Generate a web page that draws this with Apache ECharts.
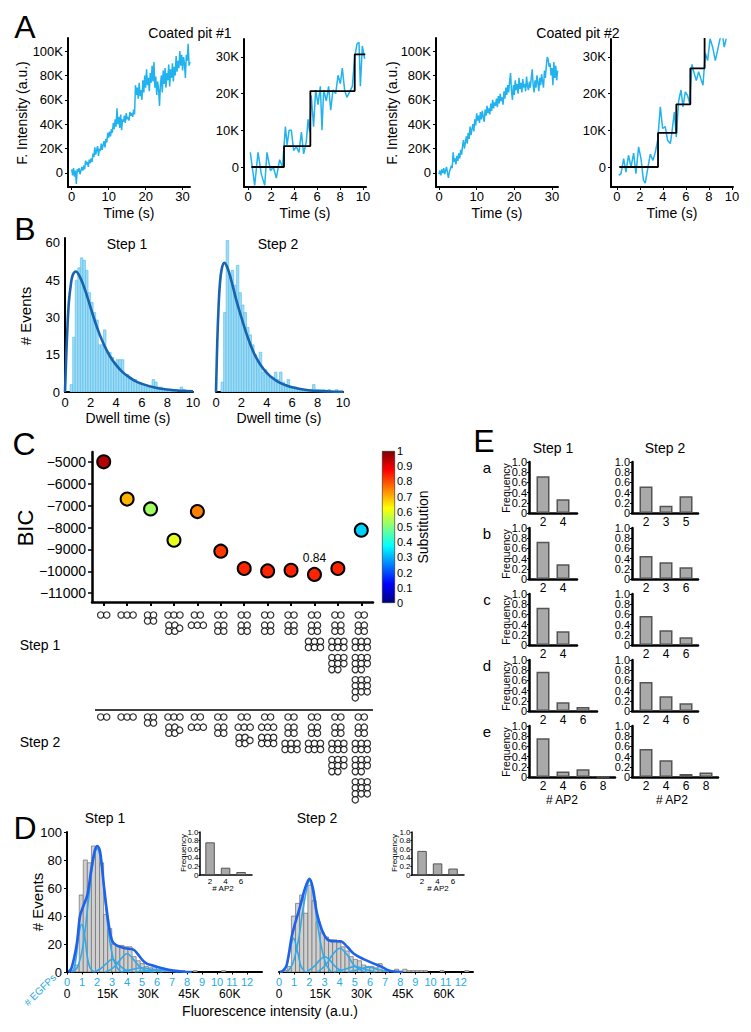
<!DOCTYPE html>
<html><head><meta charset="utf-8">
<script src="https://cdn.jsdelivr.net/npm/echarts@6/dist/echarts.min.js"></script>
<style>html,body{margin:0;padding:0;background:#fff}#c{width:751px;height:1032px}</style>
</head><body><div id="c"></div>
<script>
// ================= DATA =================
// Panel A (intensities in thousands of a.u.)
const a1Dt = 0.25; // frame interval (s)
const a1Vals = [3,-2,4,-3,2,-9,3,1,4,-1,2,5,2,6,3,10,7,9,5,11,8,12,9,16,13,21,15,19,22,14,20,18,24,19,23,26,21,28,25,33,29,34,30,36,33,41,36,44,38,53,40,46,37,48,35,44,42,47,41,49,44,46,43,50,47,49,46,52,48,72,64,70,61,74,63,68,60,76,66,80,70,85,72,78,67,82,74,88,75,91,70,79,64,75,69,55,72,80,66,84,73,86,70,82,76,89,71,85,78,90,75,87,80,96,83,92,86,100,88,97,84,95,90,78,97,92,106,88,91];
const a2Time = [0.2,0.58,0.87,1.16,1.45,1.65,1.95,2.2,2.46,2.75,3.0,3.25,3.4,3.57,3.77,3.97,4.2,4.43,4.64,4.84,5.07,5.22,5.36,5.5,5.7,5.88,6.09,6.29,6.43,6.58,6.81,7.01,7.19,7.39,7.62,7.83,8.03,8.2,8.4,8.6,8.84,9.07,9.28,9.48,9.65,9.77,9.94,10.14];
const a2Vals = [4,-5,4,-2,-5,4,-1,0,-3,2,0,11,6,10,10,4.5,5.5,4,9.5,3.6,7,13,9.5,19.5,11,21,17,22,10,21,18,22,15.5,21,20,25,22.7,27,21,19,20.5,22,30,33.6,34,22,33,29.5];
const a2StepTime = [0.29,3.13,5.42,9.28,10.2];
const a2StepLevel = [0,5.7,20.7,30.7];
const a3Dt = 0.25;
const a3Vals = [-1,2,-2,3,0,4,-1,2,5,0,-4,1,3,6,4,17,9,12,7,14,10,16,12,19,15,22,27,20,25,30,24,33,28,38,31,36,40,34,44,39,49,43,47,41,50,44,51,46,42,52,47,55,49,53,48,57,51,60,53,58,55,61,54,63,57,65,59,62,56,67,61,70,64,72,66,75,82,67,60,72,64,76,68,73,65,78,69,74,66,77,70,73,67,79,71,68,75,70,78,85,72,66,76,70,80,74,67,78,72,81,75,70,84,78,88,95,93,87,90,80,86,72,91,78,88,76,84];
const a4Time = [0.15,0.35,0.58,0.78,1.0,1.22,1.45,1.65,1.88,2.09,2.3,2.46,2.67,2.9,3.13,3.33,3.54,3.77,3.97,4.2,4.4,4.64,4.78,4.99,5.16,5.36,5.57,5.74,5.94,6.14,6.32,6.52,6.72,6.9,7.1,7.3,7.48,7.68,7.88,8.1,8.35,8.55,8.75,8.93,9.13,9.33,9.5];
const a4Vals = [-2.3,-1.8,2.3,-1.4,3.2,0,3.8,-1.8,5.5,2.3,-3.6,-4.4,-0.5,3.5,1.8,4,7.3,16.4,10.5,11,7.3,6.4,9.5,15,8.2,18,21,16.4,20.5,19.5,17.3,28,25.5,23.6,26,24,22.3,31,29,35,32.3,29,31.8,34.5,37,32.7,35];
const a4StepTime = [0.2,3.57,5.16,6.38,7.62,7.9];
const a4StepLevel = [0,9.3,17.1,26.9,38];

// Panel B (dwell-time histograms, bin width 0.2 s)
const bBinW = 0.2;
const b1Counts = [0,0,3,22,45,50,54,53,49,40,36,32,29,19,19,25,16,16,14,12,13,13,13,7,7,6,5,5,4,3,3,3,2,2,5,4,2,2,1,1,1,1,1,1,0,2,1,0,0,0];
const b2Counts = [0,0,4,32,61,46,49,43,51,40,35,32,26,23,19,15,12,16,8,9,7,6,6,8,5,8,4,3,5,2,2,2,1,1,1,1,1,1,3,1,1,1,1,0,1,0,0,1,0,0];
const b1Fit = [[0,0],[0.1,15],[0.2,27],[0.3,36],[0.45,43],[0.6,47],[0.85,48.5],[1.1,47],[1.4,43.5],[1.7,39],[2,34],[2.5,26],[3,19.5],[3.5,14.5],[4,10.8],[4.5,8],[5,6],[5.5,4.4],[6,3.3],[7,1.8],[8,1],[9,0.5],[10,0.3]];
const b2Fit = [[0,0],[0.1,20],[0.2,34],[0.3,43],[0.45,49.5],[0.66,52],[0.9,50],[1.2,45],[1.6,37],[2,30],[2.5,22],[3,15.5],[3.5,11],[4,7.7],[4.5,5.4],[5,3.8],[5.5,2.7],[6,1.9],[7,0.9],[8,0.4],[9,0.2],[10,0.1]];
const bCountTicks = [0,15,30,45,60];

// Panel C
const cModels = ['1','2','3','4','5','6','7','8','9','10','11','12'];
const cLetters = ['','','','','','','a','b','c','d','e',''];
const cBIC = [-5000,-6700,-7150,-8580,-7270,-9080,-9870,-9980,-9950,-10140,-9870,-8120];
const cSub = [0.95,0.70,0.53,0.60,0.75,0.82,0.84,0.84,0.84,0.84,0.84,0.33];
const cBicTicks = [-11000,-10000,-9000,-8000,-7000,-6000,-5000];
const cGlyphStep1 = [[2],[3],[4],[3,5],[2,3],[2,4],[2,4],[2,4],[2,4],[2,4,6],[2,4,6,8],[2,4,6,8,10]];
const cGlyphStep2 = [[2],[3],[4],[3,5],[2,3],[2,4],[2,3,5],[2,3,6],[2,4,6],[2,4,6],[2,4,6,8],[2,4,6,8,10]];

// Panel D (intensity in thousands, bin width 1.5K)
const dBinW = 1.5;
const d1Counts = [0,1,5,55,80,78,90,88,78,41,31,20,19,19,18,18,11,8,6,4,3,3,2,2,1,1,1,0,1,0,0,1,0,0,0,0,0,0,1,0,0,0,0,0,0,0,0];
const d2Counts = [0,1,4,40,49,55,42,62,51,36,28,25,23,23,21,18,15,11,9,8,5,4,4,3,6,1,0,0,2,0,2,1,1,1,1,1,0,0,0,1,0,0,0,0,0,1,0];
const d1Total = [[0.5,0],[1.7,3],[3.6,20],[4.8,40],[6.0,47],[7.5,55],[9.1,75],[10.3,87],[11.2,90],[12.2,86],[13.7,60],[15.3,35],[16.7,22],[18.3,19],[21.4,17],[24.5,16],[26,13],[27.6,9],[29.4,6],[31.9,4.5],[35.5,2.5],[39.2,1],[43,0.2],[46,0]];
const d1Comps = [
  [[1.5,0],[2.5,2],[3.5,12],[4.3,26],[5.4,34],[6.5,26],[7.4,12],[8.5,3],[10,0]],
  [[2,0],[4,4],[6,20],[8,53],[9.5,77],[11.1,88],[12.6,78],[14,52],[15.5,26],[17,10],[18.5,3],[20,0]],
  [[10,0],[12.5,2.5],[14.5,6],[16.6,9],[18.7,6],[20.7,2.5],[23,0]],
  [[14,0],[17,3],[19.5,8.5],[22.1,13],[24.7,8.5],[27.2,3],[30,0.5],[32,0]],
  [[20,0],[23.5,1.5],[27.6,3],[31.5,1.5],[35,0]],
  [[25,0],[29,0.8],[33,1.5],[37,0.8],[41,0]]
];
const d2Total = [[0.3,0],[1.5,1],[2.8,5],[4.6,25],[5.9,35],[7.7,47],[9.5,60],[11.1,66.5],[12.3,60],[13.8,42],[15.6,30],[17.7,23],[19.9,22],[22.3,22],[24.8,18],[27.2,13],[30.9,9],[34.5,6],[37,4],[39.4,1.5],[41.8,0.3],[45,0]];
const d2Comps = [
  [[1,0],[2.5,3],[3.8,14],[5.3,24],[6.8,14],[8,4],[9.5,0]],
  [[3,0],[5,6],[7,22],[9,48],[11.1,65],[13,48],[15,22],[17,6],[19,0]],
  [[10,0],[12.8,4],[14.8,8.5],[16.6,11],[18.4,8.5],[20.4,4],[23,0]],
  [[14,0],[17,5],[19.5,12.5],[22.1,17],[24.7,12.5],[27.2,5],[30,1],[32,0]],
  [[20,0],[24,2],[27.6,4],[31.2,2],[35,0]],
  [[25,0],[29,1.8],[32.5,3.5],[36,1.8],[40,0]]
];
const dEgfpTicks = [0,1,2,3,4,5,6,7,8,9,10,11,12];
const dKTicks = [0,15,30,45,60];
const dIn1Cats = [2,4,6], dIn1Vals = [0.76,0.17,0.07];
const dIn2Cats = [2,4,6], dIn2Vals = [0.56,0.27,0.15];

// Panel E
const eRowLetters = ['a','b','c','d','e'];
const e1Cats = [[2,4],[2,4],[2,4],[2,4,6],[2,4,6,8]];
const e1Vals = [[0.72,0.27],[0.73,0.29],[0.73,0.27],[0.77,0.17,0.08],[0.76,0.11,0.15,0]];
const e2Cats = [[2,3,5],[2,3,6],[2,4,6],[2,4,6],[2,4,6,8]];
const e2Vals = [[0.52,0.14,0.33],[0.45,0.33,0.23],[0.57,0.29,0.15],[0.57,0.29,0.15],[0.55,0.33,0.06,0.09]];
const freqTicks = [0,0.2,0.4,0.6,0.8,1];
const freqLabelsEven = [0,0.4,0.8];
const freqLabelsOdd = [0.2,0.6,1];

// ================= BUILD =================
const FONT = "'Liberation Sans', Arial, Helvetica, sans-serif";
const TRACE = '#22B2EE';
const grid = [], xAxis = [], yAxis = [], series = [], graphic = [];

function merge(a, b) {
  const out = Object.assign({}, a);
  for (const k in b) {
    const v = b[k];
    if (v && typeof v === 'object' && !Array.isArray(v) && out[k] && typeof out[k] === 'object' && !Array.isArray(out[k])) out[k] = merge(out[k], v);
    else out[k] = v;
  }
  return out;
}
function axisBase(extra) {
  return merge({
    type: 'value',
    axisLine: {show: true, onZero: false, lineStyle: {color: '#000', width: 2}},
    axisTick: {show: true, length: 3, lineStyle: {color: '#000', width: 1}},
    axisLabel: {color: '#000', fontSize: 12, fontFamily: FONT, margin: 4, showMinLabel: true, showMaxLabel: true, hideOverlap: false},
    splitLine: {show: false}
  }, extra || {});
}
function addGrid(rect, xas, yas) {
  const gi = grid.length;
  grid.push(Object.assign({containLabel: false}, rect));
  const xi = [], yi = [];
  (Array.isArray(xas) ? xas : [xas]).forEach(a => { xAxis.push(axisBase(merge(a, {gridIndex: gi}))); xi.push(xAxis.length - 1); });
  (Array.isArray(yas) ? yas : [yas]).forEach(a => { yAxis.push(axisBase(merge(a, {gridIndex: gi}))); yi.push(yAxis.length - 1); });
  return {x: xi, y: yi};
}
function text(str, x, y, o) {
  o = o || {};
  graphic.push({type: 'text', x: x, y: y, rotation: o.rot || 0, z: 100, silent: true,
    style: {text: str, fill: o.color || '#000', fontSize: o.size || 14, fontFamily: FONT,
      align: o.align || 'center', verticalAlign: 'middle', textAlign: o.align || 'center', textVerticalAlign: 'middle'}});
}
function line(ax, data, color, width, extra) {
  series.push(Object.assign({type: 'line', xAxisIndex: ax.x[0], yAxisIndex: ax.y[0], data: data, symbol: 'none', showSymbol: false,
    lineStyle: {color: color, width: width}, clip: true, z: 3}, extra || {}));
}
function hist(ax, counts, binW, fill, stroke, lw) {
  series.push({type: 'custom', xAxisIndex: ax.x[0], yAxisIndex: ax.y[0], clip: true, z: 1,
    data: counts.map((c, i) => [i * binW, c]),
    encode: {x: 0, y: 1},
    renderItem: function (params, api) {
      const x = api.value(0), h = api.value(1);
      if (!h) return null;
      const p0 = api.coord([x, h]), p1 = api.coord([x + binW, 0]);
      return {type: 'rect', shape: {x: p0[0], y: p0[1], width: p1[0] - p0[0], height: p1[1] - p0[1]},
        style: {fill: fill, stroke: stroke, lineWidth: lw}};
    }});
}
function miniBars(rect, cats, vals, o) {
  const fmt = v => v === 0 ? '0' : v.toFixed(1);
  const ax = addGrid(rect,
    {min: -o.x0, max: -o.x0 + rect.width / o.step, axisLine: {lineStyle: {width: o.lw}},
      axisTick: {show: false},
      axisLabel: {fontSize: o.xfs, margin: o.xm, customValues: cats.map((c, i) => i), formatter: v => String(cats[Math.round(v)])}},
    [{min: 0, max: 1, axisLine: {lineStyle: {width: o.lw}}, axisTick: {length: o.tl, customValues: freqTicks},
      axisLabel: {fontSize: o.yfs, margin: o.ym, customValues: freqLabelsEven, formatter: fmt}},
     {min: 0, max: 1, position: 'left', offset: 0, axisLine: {show: false}, axisTick: {show: false},
      axisLabel: {fontSize: o.yfs, margin: o.ym, customValues: freqLabelsOdd, formatter: fmt}}]);
  series.push({type: 'bar', xAxisIndex: ax.x[0], yAxisIndex: ax.y[0], barWidth: o.bw,
    data: vals.map((v, i) => [i, v]),
    itemStyle: {color: '#A9A9A9', borderColor: '#555', borderWidth: o.bl}});
}
const fmtK = v => v === 0 ? '0' : v + 'K';

// ---------- Panel A ----------
text('A', 25, 27, {size: 32});
text('Coated pit #1', 190, 33);
text('Coated pit #2', 578, 33);
[22, 392].forEach(x => text('F. Intensity (a.u.)', x, 113, {rot: Math.PI / 2}));
[129, 305, 497, 672].forEach(x => text('Time (s)', x, 213));
function aPanel(rect, xmin, xmax, xt, ymin, ymax, yt) {
  return addGrid(rect,
    {min: xmin, max: xmax, axisLabel: {fontSize: 13, margin: 3, customValues: xt}, axisTick: {customValues: xt}},
    {min: ymin, max: ymax, axisLabel: {fontSize: 13, margin: 5, customValues: yt, formatter: fmtK}, axisTick: {customValues: yt}});
}
const gA1 = aPanel({left: 68, top: 38, width: 122, height: 149}, -1, 32, [0,10,20,30], -11.5, 110.7, [0,20,40,60,80,100]);
line(gA1, a1Vals.map((v, i) => [i * a1Dt, v]), TRACE, 1.5);
const gA2 = aPanel({left: 244, top: 39, width: 122, height: 148}, -0.35, 10.26, [0,2,4,6,8,10], -5.45, 34.9, [0,10,20,30]);
line(gA2, a2Time.map((t, i) => [t, a2Vals[i]]), TRACE, 1.5);
line(gA2, a2StepTime.map((t, i) => [t, a2StepLevel[Math.min(i, a2StepLevel.length - 1)]]), '#000', 1.8, {step: 'end', z: 4});
const gA3 = aPanel({left: 436, top: 38, width: 122, height: 149}, -0.8, 31.6, [0,10,20,30], -11.5, 110.7, [0,20,40,60,80,100]);
line(gA3, a3Vals.map((v, i) => [i * a3Dt, v]), TRACE, 1.5);
const gA4 = aPanel({left: 611, top: 39, width: 122, height: 148}, -0.52, 10.09, [0,2,4,6,8,10], -5.45, 34.9, [0,10,20,30]);
line(gA4, a4Time.map((t, i) => [t, a4Vals[i]]), TRACE, 1.5);
line(gA4, a4StepTime.map((t, i) => [t, a4StepLevel[Math.min(i, a4StepLevel.length - 1)]]), '#000', 1.8, {step: 'end', z: 4});

// ---------- Panel B ----------
text('B', 25, 229, {size: 32});
text('Step 1', 127, 244); text('Step 2', 278, 244);
text('# Events', 25, 316, {rot: Math.PI / 2, size: 15});
text('Dwell time (s)', 128, 418); text('Dwell time (s)', 279, 418);
const bX = {min: 0, max: 10, interval: 2, axisTick: {show: false}, axisLabel: {fontSize: 13, margin: 4}};
const gB1 = addGrid({left: 65, top: 238, width: 128, height: 154}, bX,
  {min: 0, max: 62, axisTick: {show: false, customValues: bCountTicks}, axisLabel: {fontSize: 13, margin: 5, customValues: bCountTicks}});
const gB2 = addGrid({left: 216, top: 238, width: 127, height: 154}, bX, {min: 0, max: 62, show: false});
hist(gB1, b1Counts, bBinW, '#A3DBF5', '#4CBDEB', 0.6);
hist(gB2, b2Counts, bBinW, '#A3DBF5', '#4CBDEB', 0.6);
line(gB1, b1Fit, '#1763B0', 2.6, {smooth: 0.4});
line(gB2, b2Fit, '#1763B0', 2.6, {smooth: 0.4});

// ---------- Panel C ----------
text('C', 24, 444, {size: 32});
text('BIC', 25, 528, {rot: Math.PI / 2, size: 22});
text('Substitution', 423, 527, {rot: Math.PI / 2, size: 14});
text('Step 1', 40, 645); text('Step 2', 40, 742);
const gC = addGrid({left: 92, top: 452, width: 281, height: 150},
  {type: 'category', data: cModels, boundaryGap: true, axisLine: {lineStyle: {width: 2.5}},
    axisTick: {alignWithLabel: true, length: 4, lineStyle: {width: 2}}, axisLabel: {show: false}},
  {min: -11400, max: -4550, axisLine: {lineStyle: {width: 2.5}}, axisTick: {length: 4, lineStyle: {width: 1.5}, customValues: cBicTicks},
    axisLabel: {fontSize: 14, margin: 6, customValues: cBicTicks, formatter: v => (v < 0 ? '\u2212' : '') + Math.abs(v)}});
const scatterIdx = series.length;
series.push({type: 'scatter', xAxisIndex: gC.x[0], yAxisIndex: gC.y[0], symbolSize: 13, z: 5,
  itemStyle: {borderColor: '#000', borderWidth: 2, opacity: 1},
  data: cBIC.map((b, i) => {
    const d = {value: [i, b, cSub[i]]};
    if (cLetters[i] === 'd') d.label = {show: true, position: 'top', distance: 3, formatter: String(cSub[i]), fontSize: 12, color: '#000', fontFamily: FONT};
    return d;
  })});
series.push({type: 'scatter', xAxisIndex: gC.x[0], yAxisIndex: gC.y[0], symbolSize: 1, itemStyle: {opacity: 0},
  data: cLetters.map((l, i) => ({value: [i, -11000], name: l})).filter(d => d.name),
  label: {show: true, position: 'inside', formatter: p => p.name, fontSize: 13, color: '#000', fontFamily: FONT}});
// colour bar
const gCB = addGrid({left: 382, top: 451, width: 13, height: 152},
  {type: 'category', data: ['s'], show: false, boundaryGap: true},
  {min: 0, max: 1, interval: 0.1, position: 'right', axisLine: {show: false}, axisTick: {show: false},
    axisLabel: {fontSize: 11, margin: 2, formatter: v => (v === 0 || v === 1) ? String(v) : v.toFixed(1)}});
series.push({type: 'bar', xAxisIndex: gCB.x[0], yAxisIndex: gCB.y[0], barWidth: '100%', data: [1], silent: true,
  itemStyle: {borderColor: '#222', borderWidth: 0.6, color: new echarts.graphic.LinearGradient(0, 0, 0, 1, [
    {offset: 0, color: '#800000'}, {offset: 0.125, color: '#FF0000'}, {offset: 0.375, color: '#FFFF00'},
    {offset: 0.625, color: '#00FFFF'}, {offset: 0.875, color: '#0000FF'}, {offset: 1, color: '#000080'}])}});
// glyphs
const gG = addGrid({left: 92, top: 600, width: 281, height: 210},
  {min: -0.5, max: 11.5, show: false}, {min: 600, max: 810, inverse: true, show: false});
const CELL = 6, XU = CELL / (281 / 12), GAP = 10.2;
function glyphOffsets(n) {
  if (n === 2) return [[-0.5, 0], [0.5, 0]];
  if (n === 3) return [[-1, 0], [0, 0], [1, 0]];
  if (n === 5) return [[-0.85, 0], [0.15, 0], [-0.85, 1], [0.15, 1], [0.95, 0.5]];
  const cols = n === 4 ? 2 : 3, out = [];
  for (let k = 0; k < n; k++) out.push([(k % cols) - (cols - 1) / 2, Math.floor(k / cols)]);
  return out;
}
const glyphRows = n => n <= 3 ? 1 : n <= 6 ? 2 : Math.ceil(n / 3);
const glyphPts = [];
[[cGlyphStep1, 615], [cGlyphStep2, 717]].forEach(([cols, y0]) => {
  cols.forEach((glyphs, c) => {
    let y = y0;
    glyphs.forEach(n => {
      glyphOffsets(n).forEach(([dx, dy]) => glyphPts.push([c + dx * XU, y + dy * CELL]));
      y += (glyphRows(n) - 1) * CELL + GAP;
    });
  });
});
series.push({type: 'scatter', xAxisIndex: gG.x[0], yAxisIndex: gG.y[0], data: glyphPts, symbolSize: 6.4, silent: true,
  itemStyle: {color: '#fff', borderColor: '#000', borderWidth: 1.2}});
graphic.push({type: 'line', shape: {x1: 95, y1: 710, x2: 373, y2: 710}, style: {stroke: '#000', lineWidth: 1.5}});

// ---------- Panel E ----------
text('E', 484, 441, {size: 32});
text('Step 1', 553, 448); text('Step 2', 665, 448);
const eAxisY = [513, 579, 645, 711, 777];
const e1W = [48, 48, 48, 68, 86], e2W = [66, 66, 66, 66, 86];
const eOpt = {x0: 0.7, step: 20, lw: 2.5, xfs: 12, xm: 3, yfs: 11, ym: 2, tl: 2, bw: 13, bl: 1.5};
eRowLetters.forEach((l, r) => {
  text(l, 487, eAxisY[r] - 46, {size: 15});
  text('Frequency', 506, eAxisY[r] - 25, {rot: Math.PI / 2, size: 10.5});
  miniBars({left: 529, top: eAxisY[r] - 51, width: e1W[r], height: 51}, e1Cats[r], e1Vals[r], eOpt);
  miniBars({left: 632, top: eAxisY[r] - 51, width: e2W[r], height: 51}, e2Cats[r], e2Vals[r], eOpt);
});
text('# AP2', 562, 800, {size: 12}); text('# AP2', 672, 800, {size: 12});

// ---------- Panel D ----------
text('D', 25, 828, {size: 32});
text('Step 1', 105, 818); text('Step 2', 317, 818);
text('# Events', 37, 902, {rot: Math.PI / 2, size: 15});
text('# EGFPs', 40, 990, {rot: Math.PI / 4, size: 10, color: '#29ABE2'});
text('Fluorescence intensity (a.u.)', 270, 1011, {size: 14});
function dAxes(kmax, emax) {
  return [
    {min: 0, max: kmax, position: 'bottom', axisLine: {show: false}, axisTick: {show: false},
      axisLabel: {fontSize: 12, margin: 16, customValues: dKTicks, formatter: fmtK}},
    {min: 0, max: emax, position: 'bottom', axisTick: {length: 2.5, customValues: dEgfpTicks},
      axisLabel: {fontSize: 11, margin: 4, color: '#29ABE2', customValues: dEgfpTicks}}
  ];
}
const gD1 = addGrid({left: 67, top: 832, width: 195, height: 140}, dAxes(71.9, 13),
  {min: 0, max: 100, interval: 20, axisTick: {length: 3}, axisLabel: {fontSize: 13, margin: 5}});
const gD2 = addGrid({left: 279, top: 832, width: 194, height: 140}, dAxes(70.5, 12.8), {min: 0, max: 100, show: false});
[[gD1, d1Counts, d1Comps, d1Total], [gD2, d2Counts, d2Comps, d2Total]].forEach(([g, counts, comps, total]) => {
  hist(g, counts, dBinW, '#D0D0D0', '#6E6E6E', 0.7);
  comps.forEach(c => line(g, c, '#2FA9EA', 1.6, {smooth: 0.35, z: 4}));
  line(g, total, '#1F60EC', 2.6, {smooth: 0.35, z: 5});
});
const inOpt = {x0: 0.65, step: 15.5, lw: 1.5, xfs: 8, xm: 2, yfs: 8, ym: 1.5, tl: 1.5, bw: 9.5, bl: 1};
miniBars({left: 200, top: 832, width: 52, height: 43}, dIn1Cats, dIn1Vals, inOpt);
miniBars({left: 412, top: 832, width: 52, height: 43}, dIn2Cats, dIn2Vals, inOpt);
text('Frequency', 183, 853, {rot: Math.PI / 2, size: 8});
text('Frequency', 394, 853, {rot: Math.PI / 2, size: 8});
text('# AP2', 223, 888, {size: 8}); text('# AP2', 438, 888, {size: 8});

// ================= RENDER =================
const chart = echarts.init(document.getElementById('c'), null, {renderer: 'svg', width: 751, height: 1032});
chart.setOption({
  animation: false,
  backgroundColor: '#fff',
  textStyle: {fontFamily: FONT},
  grid: grid, xAxis: xAxis, yAxis: yAxis, series: series, graphic: graphic,
  visualMap: [{type: 'continuous', show: false, seriesIndex: scatterIdx, dimension: 2, min: 0, max: 1,
    inRange: {color: ['#000080','#0000FF','#0080FF','#00FFFF','#80FF80','#FFFF00','#FF8000','#FF0000','#800000']}}]
});
</script></body></html>
